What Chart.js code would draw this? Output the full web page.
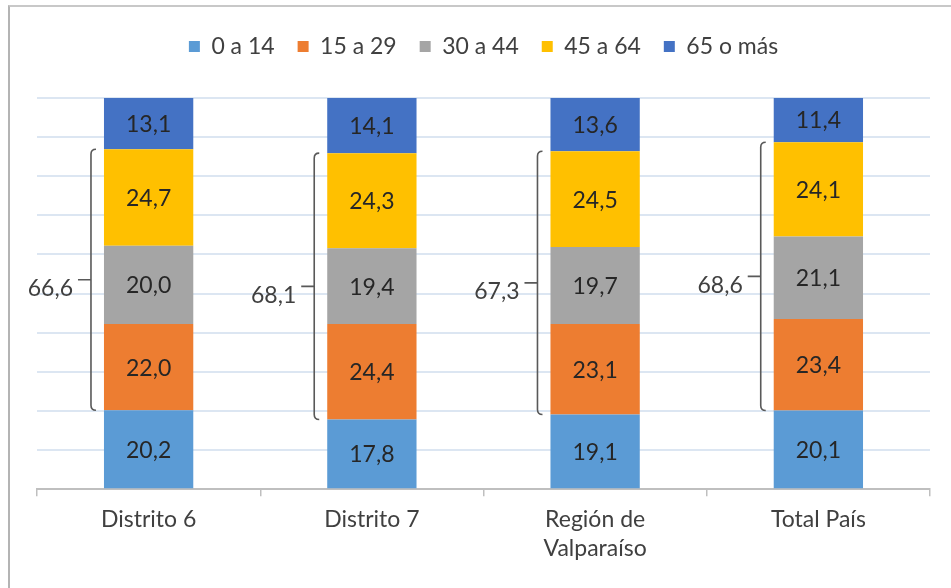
<!DOCTYPE html>
<html>
<head>
<meta charset="utf-8">
<script src="https://cdn.jsdelivr.net/npm/chart.js@4/dist/chart.umd.min.js"></script>
<style>
  html, body { margin: 0; padding: 0; background: #fff; }
  #frame { position: absolute; left: 8px; top: 5px; width: 943px; height: 583px;
           border-left: 2px solid #b4b4b4; border-top: 2px solid #c8c8c8; box-sizing: border-box; }
  #wrap { position: absolute; left: 0; top: 0; width: 951px; height: 588px; }
</style>
</head>
<body>
<div id="frame"></div>
<div id="wrap"><canvas id="chart"></canvas></div>
<script>
var categories = ['Distrito 6', 'Distrito 7', ['Región de', 'Valparaíso'], 'Total País'];
var seriesNames = ['0 a 14', '15 a 29', '30 a 44', '45 a 64', '65 o más'];
var age0to14 = [20.2, 17.8, 19.1, 20.1];
var age15to29 = [22.0, 24.4, 23.1, 23.4];
var age30to44 = [20.0, 19.4, 19.7, 21.1];
var age45to64 = [24.7, 24.3, 24.5, 24.1];
var age65plus = [13.1, 14.1, 13.6, 11.4];
var workingAge = [66.6, 68.1, 67.3, 68.6];
var colors = ['#5b9bd5', '#ed7d31', '#a5a5a5', '#ffc000', '#4472c4'];

var fontName = 'Lato, "Open Sans", sans-serif';
var fontSize = 23;

function fmt(v) {
	return v.toFixed(1).replace('.', ',');
}

// extra room under the legend
var legendGap = {
	id: 'legendGap',
	beforeInit: function (chart) {
		var fit = chart.legend.fit;
		chart.legend.fit = function () {
			fit.bind(chart.legend)();
			this.height += 30;
		};
	}
};

// labels inside the segments
var segmentLabels = {
	id: 'segmentLabels',
	afterDatasetsDraw: function (chart) {
		var ctx = chart.ctx;
		ctx.save();
		ctx.font = fontSize + 'px ' + fontName;
		ctx.fillStyle = '#262626';
		ctx.textAlign = 'center';
		ctx.textBaseline = 'middle';
		chart.data.datasets.forEach(function (ds, di) {
			var meta = chart.getDatasetMeta(di);
			meta.data.forEach(function (bar, i) {
				ctx.fillText(fmt(ds.data[i]), bar.x, (bar.y + bar.base) / 2 + 1);
			});
		});
		ctx.restore();
	}
};

// bracket for the 15-64 group with its total
var brackets = {
	id: 'brackets',
	afterDatasetsDraw: function (chart) {
		var ctx = chart.ctx;
		var low = chart.getDatasetMeta(1);
		var high = chart.getDatasetMeta(3);
		ctx.save();
		ctx.strokeStyle = '#595959';
		ctx.lineWidth = 1.6;
		ctx.font = fontSize + 'px ' + fontName;
		ctx.fillStyle = '#404040';
		ctx.textAlign = 'right';
		ctx.textBaseline = 'middle';
		for (var i = 0; i < categories.length; i++) {
			var b = low.data[i];
			var top = high.data[i].y;
			var bottom = b.base;
			var bx = b.x - b.width / 2 - 13;
			var mid = (top + bottom) / 2;
			ctx.beginPath();
			ctx.moveTo(bx + 5, top);
			ctx.quadraticCurveTo(bx, top, bx, top + 5);
			ctx.lineTo(bx, bottom - 5);
			ctx.quadraticCurveTo(bx, bottom, bx + 5, bottom);
			ctx.moveTo(bx, mid);
			ctx.lineTo(bx - 13, mid);
			ctx.stroke();
			ctx.fillText(fmt(workingAge[i]), bx - 18, mid + 9);
		}
		ctx.restore();
	}
};

var series = [age0to14, age15to29, age30to44, age45to64, age65plus];
var datasets = [];
for (var s = 0; s < series.length; s++) {
	datasets.push({
		label: seriesNames[s],
		data: series[s],
		backgroundColor: colors[s],
		borderWidth: 0,
		barPercentage: 0.4,
		categoryPercentage: 1.0
	});
}

var chart = new Chart(document.getElementById('chart'), {
	type: 'bar',
	data: { labels: categories, datasets: datasets },
	options: {
		responsive: true,
		maintainAspectRatio: false,
		animation: false,
		layout: { padding: { left: 37, right: 21, top: 12, bottom: 16 } },
		plugins: {
			legend: {
				position: 'top',
				labels: {
					boxWidth: 11,
					boxHeight: 11,
					padding: 23,
					color: '#404040',
					font: { family: fontName, size: fontSize }
				}
			},
			tooltip: { enabled: false }
		},
		scales: {
			x: {
				stacked: true,
				grid: { display: true, drawOnChartArea: false, offset: true, tickLength: 7, color: '#bfbfbf', lineWidth: 1.5 },
				border: { display: true, color: '#bfbfbf', width: 2 },
				ticks: { color: '#404040', font: { family: fontName, size: fontSize, lineHeight: 1.3 }, padding: 8 }
			},
			y: {
				stacked: true,
				min: 0,
				max: 100,
				ticks: { display: false, stepSize: 10 },
				border: { display: false },
				grid: { color: '#dce6f2', lineWidth: 2, drawTicks: false }
			}
		}
	},
	plugins: [legendGap, segmentLabels, brackets]
});
</script>
</body>
</html>
